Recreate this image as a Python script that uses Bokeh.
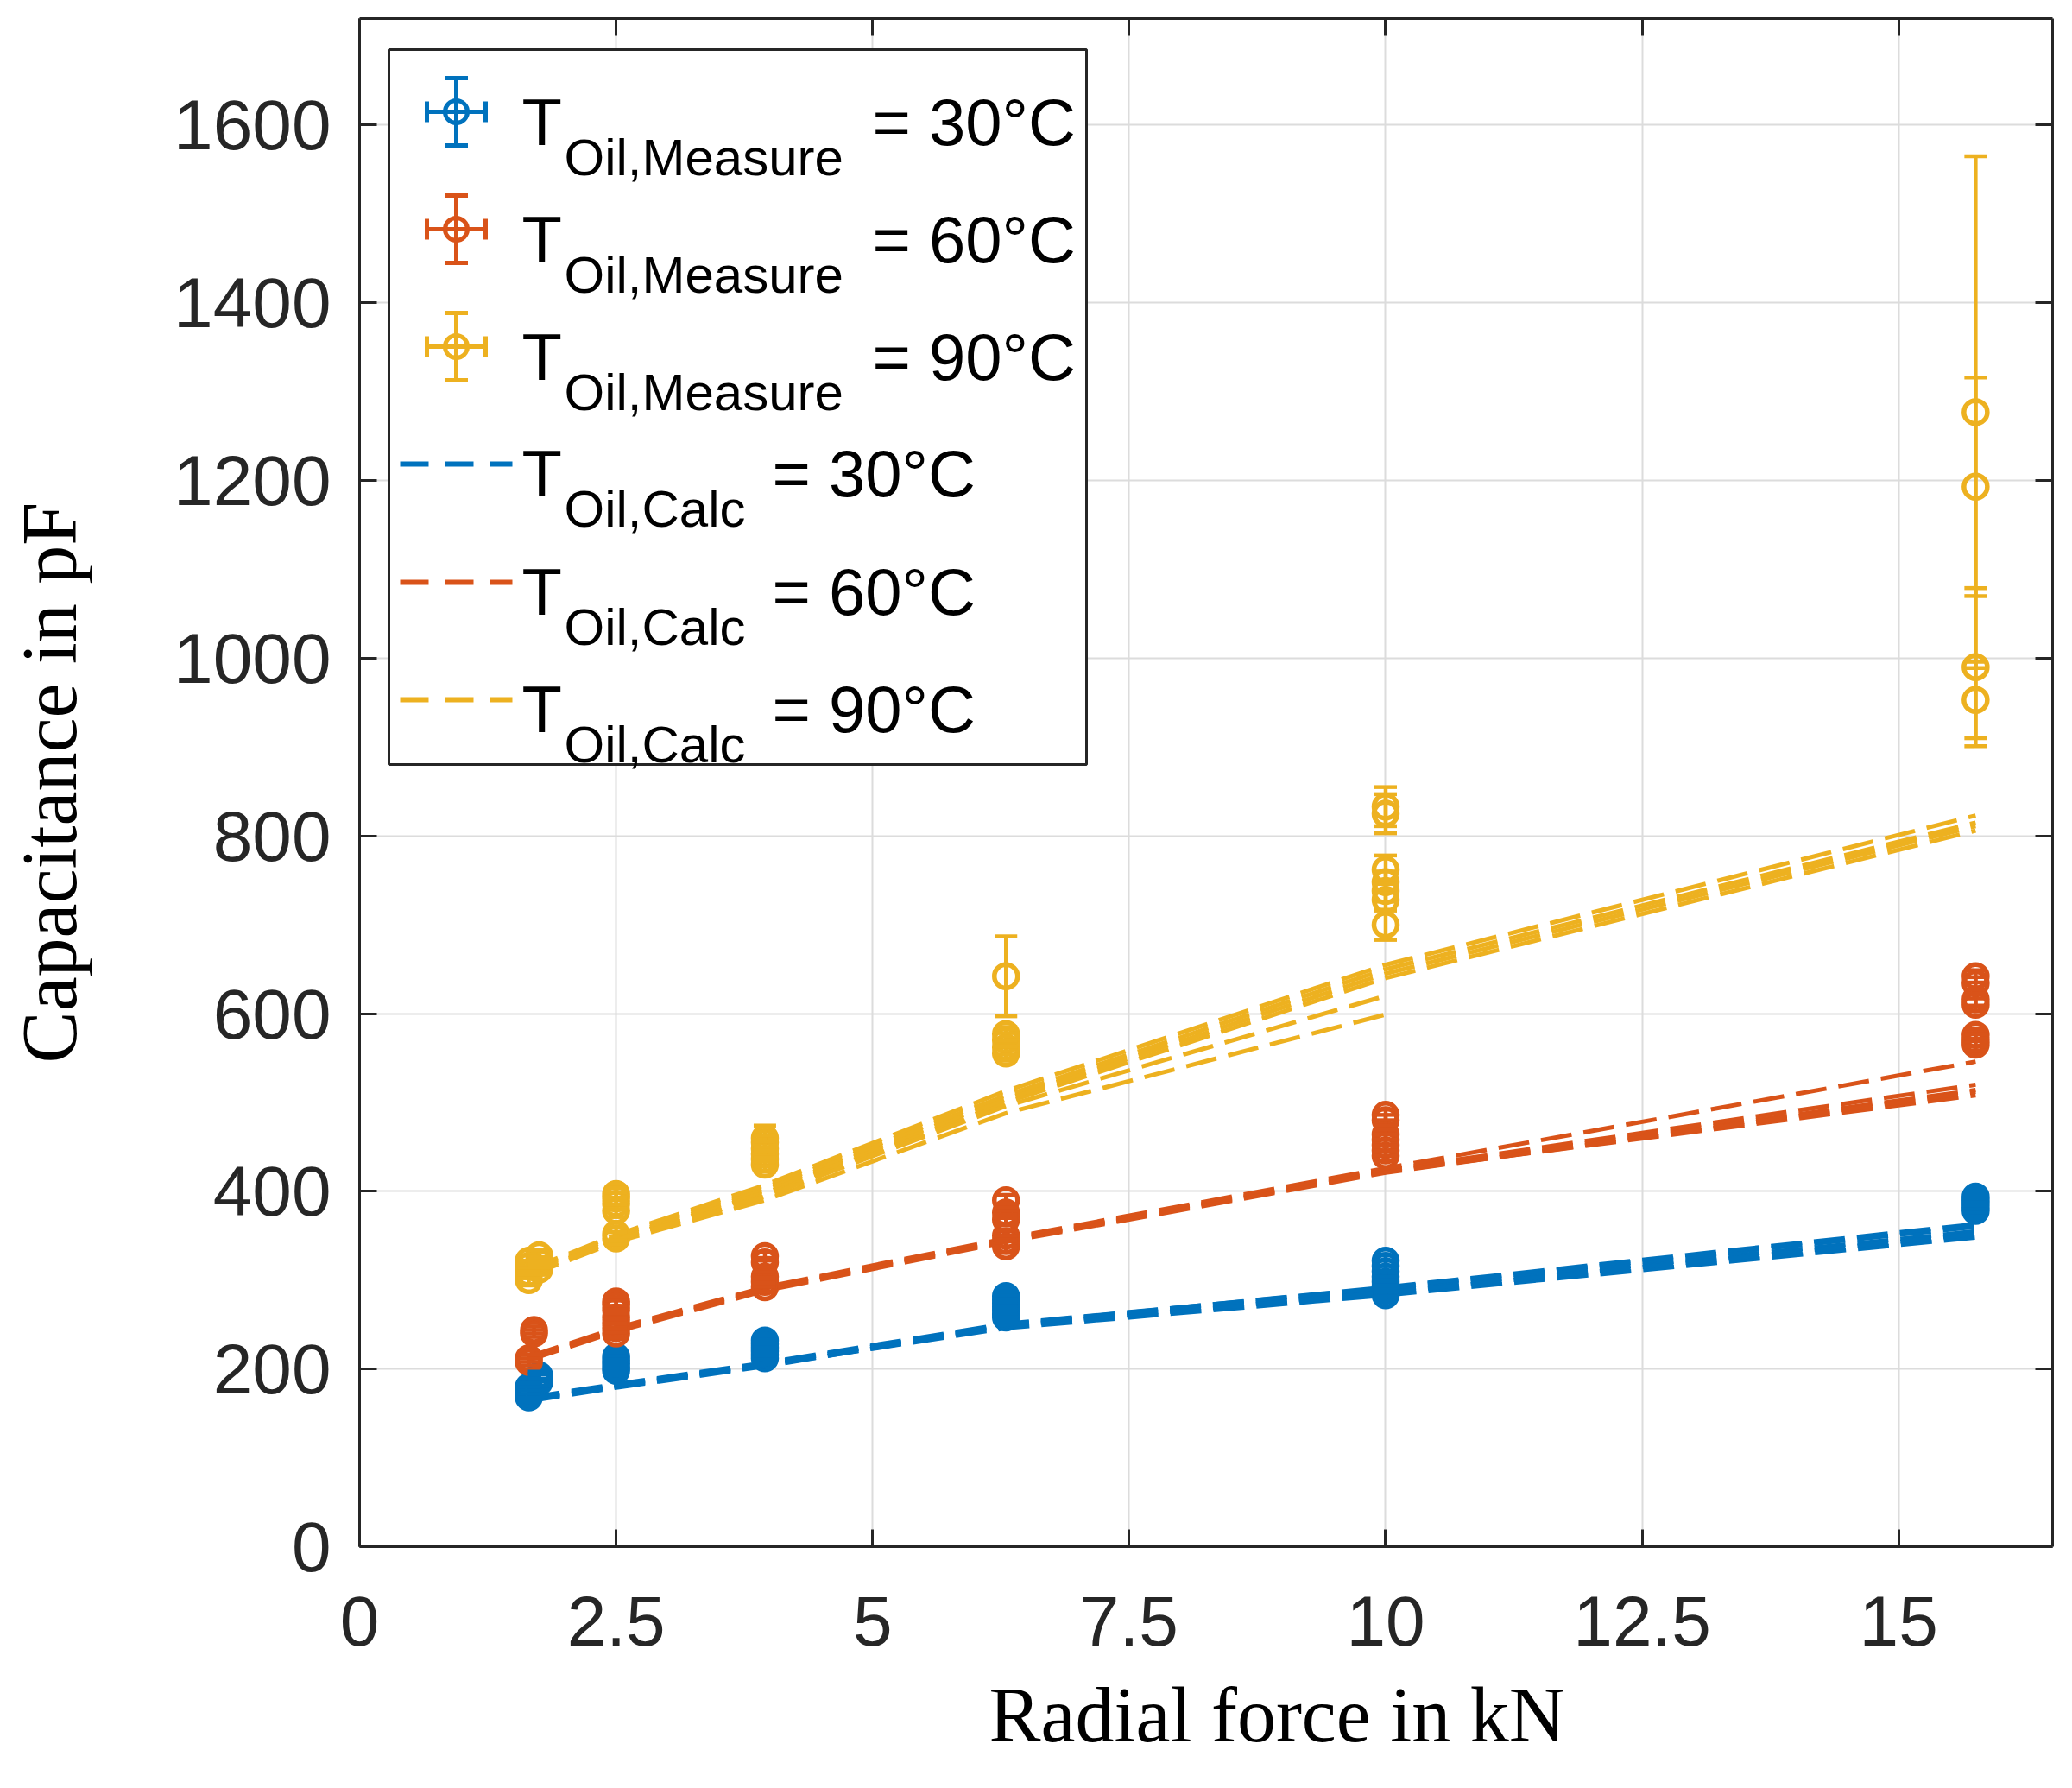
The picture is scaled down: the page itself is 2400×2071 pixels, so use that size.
from bokeh.plotting import figure
from bokeh.models import (Range1d, LinearAxis, SingleIntervalTicker, CustomJSTickFormatter,
                          ColumnDataSource, Whisker, TeeHead, Label, BoxAnnotation, Arrow,
                          Title)
from bokeh.embed import file_html
from bokeh.resources import INLINE

# measured capacitance (pF) and its standard deviation, per oil temperature
m30_force = [1.65, 1.65, 1.65, 1.65, 1.75, 1.75, 1.75,
             2.5, 2.5, 2.5, 2.5, 2.5,
             3.95, 3.95, 3.95, 3.95, 3.95, 3.95,
             6.3, 6.3, 6.3, 6.3, 6.3, 6.3, 6.3,
             10, 10, 10, 10, 10, 10, 10, 10,
             15.75, 15.75, 15.75, 15.75, 15.75]
m30_cap = [168, 172, 176, 180, 185, 190, 193,
           198, 202, 206, 210, 214,
           212, 216, 220, 224, 228, 232,
           258, 262, 266, 270, 274, 278, 282,
           283, 288, 293, 298, 304, 310, 316, 322,
           378, 382, 386, 390, 394]
m30_err = [4, 4, 4, 4, 4, 4, 4,
           5, 5, 5, 5, 5,
           5, 5, 5, 5, 5, 5,
           5, 5, 5, 5, 5, 5, 5,
           6, 6, 6, 6, 6, 6, 6, 6,
           6, 6, 6, 6, 6]

m60_force = [1.65, 1.65, 1.7, 1.7,
             2.5, 2.5, 2.5, 2.5, 2.5, 2.5, 2.5,
             3.95, 3.95, 3.95, 3.95, 3.95,
             6.3, 6.3, 6.3, 6.3, 6.3, 6.3,
             10, 10, 10, 10, 10, 10, 10,
             15.75, 15.75, 15.75, 15.75, 15.75, 15.75, 15.75]
m60_cap = [208, 212, 240, 244,
           240, 246, 252, 258, 266, 272, 276,
           292, 298, 304, 320, 327,
           338, 344, 350, 368, 376, 390,
           440, 446, 452, 458, 464, 480, 486,
           565, 570, 576, 610, 616, 634, 642]
m60_err = [4, 4, 4, 4,
           5, 5, 5, 5, 5, 5, 5,
           5, 5, 5, 5, 5,
           6, 6, 6, 6, 6, 6,
           6, 6, 6, 6, 6, 6, 6,
           7, 7, 7, 7, 7, 7, 7]

m90_force = [1.65, 1.65, 1.65, 1.65, 1.75, 1.75, 1.75,
             2.5, 2.5, 2.5, 2.5, 2.5, 2.5,
             3.95, 3.95, 3.95, 3.95, 3.95, 3.95,
             6.3, 6.3, 6.3, 6.3, 6.3,
             10, 10, 10, 10, 10, 10, 10,
             15.75, 15.75, 15.75, 15.75]
m90_cap = [300, 308, 316, 322, 312, 320, 328,
           347, 352, 378, 386, 392, 397,
           430, 436, 442, 448, 455, 460,
           555, 562, 570, 577, 642,
           700, 728, 738, 748, 762, 825, 833,
           953, 990, 1193, 1277]
m90_err = [6, 6, 6, 6, 6, 6, 6,
           7, 7, 7, 7, 7, 7,
           8, 8, 8, 8, 8, 14,
           8, 8, 8, 8, 45,
           17, 12, 12, 12, 16, 22, 22,
           43, 89, 123, 288]

# calculated capacitance (pF), one dashed line per measurement series
calc_force = [1.65, 2.5, 3.95, 6.3, 10, 15.75]
calc_force_short = [1.65, 2.5, 3.95, 6.3, 10]

c30_lines = [[165, 180, 204, 246, 283, 348],
             [166, 181, 206, 249, 288, 355],
             [168, 183, 207, 251, 291, 360],
             [164, 179, 203, 248, 286, 352],
             [167, 182, 205, 250, 292, 363]]
c60_lines = [[211, 243, 289, 344, 422, 508],
             [212, 244, 290, 345, 423, 514],
             [213, 245, 291, 346, 424, 520],
             [214, 246, 292, 347, 426, 546],
             [210, 242, 288, 343, 421, 512]]
c90_lines = [[306, 346, 398, 500, 640, 806],
             [308, 347, 401, 504, 645, 811],
             [310, 349, 404, 508, 650, 815],
             [312, 351, 407, 513, 655, 823]]
c90_short_lines = [[305, 343, 390, 488, 599],
                   [307, 345, 394, 496, 620]]

temps = ["30°C", "60°C", "90°C"]
colors = ["#0072BD", "#D95319", "#EDB120"]

AX = "#262626"
TICK_FONT = "Liberation Sans"
LABEL_FONT = "Liberation Serif"

p = figure(width=2384, height=2063, output_backend="svg", toolbar_location=None,
           x_range=Range1d(0, 16.5), y_range=Range1d(0, 1720),
           y_axis_label="Capacitance in pF",
           min_border_left=416, min_border_right=7, min_border_top=21,
           min_border_bottom=272)
p.outline_line_color = None
p.background_fill_color = "white"

p.add_layout(LinearAxis(), "above")
p.add_layout(LinearAxis(), "right")

blank = CustomJSTickFormatter(code="return ''")
plain = CustomJSTickFormatter(code="return String(tick)")

for ax in p.xaxis:
    ax.ticker = SingleIntervalTicker(interval=2.5, num_minor_ticks=0)
for ax in p.yaxis:
    ax.ticker = SingleIntervalTicker(interval=200, num_minor_ticks=0)

for ax in p.axis:
    ax.axis_line_color = AX
    ax.axis_line_width = 3
    ax.major_tick_line_color = AX
    ax.major_tick_line_width = 3
    ax.major_tick_in = 20
    ax.major_tick_out = 0
    ax.minor_tick_line_color = None
    ax.major_label_text_font = TICK_FONT
    ax.major_label_text_font_size = "82px"
    ax.major_label_text_color = AX
    ax.axis_label_text_font = LABEL_FONT
    ax.axis_label_text_font_style = "normal"
    ax.axis_label_text_font_size = "90px"
    ax.axis_label_text_color = "black"

p.above[0].formatter = blank
p.above[0].major_label_standoff = 0
p.right[0].formatter = blank
p.right[0].major_label_standoff = 0
p.below[0].formatter = plain
p.below[0].major_label_standoff = 57
p.left[0].formatter = plain
p.left[0].major_label_standoff = 33
p.left[0].axis_label_standoff = 91

p.grid.grid_line_color = "#dcdcdc"
p.grid.grid_line_width = 2

# x axis title sits right of centre, as in the original
p.add_layout(Title(text="Radial force in kN", align="left", offset=729, standoff=53,
                   text_font=LABEL_FONT, text_font_size="90px",
                   text_font_style="normal", text_color="black"), "below")

measured = [(m30_force, m30_cap, m30_err), (m60_force, m60_cap, m60_err),
            (m90_force, m90_cap, m90_err)]
calc = [(c30_lines, []), (c60_lines, []), (c90_lines, c90_short_lines)]

for (mf, mc, me), (lines, short_lines), col in zip(measured, calc, colors):
    src = ColumnDataSource(dict(x=mf, y=mc,
                                lo=[c - e for c, e in zip(mc, me)],
                                hi=[c + e for c, e in zip(mc, me)]))
    w = Whisker(base="x", lower="lo", upper="hi", source=src, dimension="height",
                line_color=col, line_width=4.5, level="glyph",
                lower_head=TeeHead(size=26, line_color=col, line_width=4.5),
                upper_head=TeeHead(size=26, line_color=col, line_width=4.5))
    p.add_layout(w)
    p.scatter("x", "y", source=src, marker="circle", size=27, fill_color=None,
              line_color=col, line_width=5.5)
    for vals in lines:
        p.line(calc_force, vals, line_color=col, line_width=5, line_dash="36 14")
    for vals in short_lines:
        p.line(calc_force_short, vals, line_color=col, line_width=5, line_dash="36 14")

# legend, laid out in screen pixels relative to the plot frame (y up)
p.add_layout(BoxAnnotation(left=34, right=842, bottom=906, top=1734,
                           left_units="screen", right_units="screen",
                           bottom_units="screen", top_units="screen",
                           fill_color="white", fill_alpha=1.0,
                           line_color=AX, line_width=3, line_alpha=1.0))

def add_text(x, y, txt, size):
    p.add_layout(Label(x=x, y=y, x_units="screen", y_units="screen", text=txt,
                       text_font=TICK_FONT, text_font_size=size, text_color="black",
                       text_baseline="alphabetic", text_align="left"))

meas_icon_y = [1662, 1526, 1390]
calc_icon_y = [1254, 1117, 981]
icon_x = 112

for t, col, yc in zip(temps, colors, meas_icon_y):
    p.add_layout(Arrow(x_start=icon_x, y_start=yc - 39, x_end=icon_x, y_end=yc + 39,
                       start_units="screen", end_units="screen",
                       line_color=col, line_width=5,
                       start=TeeHead(size=27, line_color=col, line_width=5),
                       end=TeeHead(size=27, line_color=col, line_width=5)))
    p.add_layout(Arrow(x_start=icon_x - 34, y_start=yc, x_end=icon_x + 34, y_end=yc,
                       start_units="screen", end_units="screen",
                       line_color=col, line_width=5,
                       start=TeeHead(size=24, line_color=col, line_width=5),
                       end=TeeHead(size=24, line_color=col, line_width=5)))
    p.add_layout(BoxAnnotation(left=icon_x - 13, right=icon_x + 13,
                               bottom=yc - 13, top=yc + 13,
                               left_units="screen", right_units="screen",
                               bottom_units="screen", top_units="screen",
                               border_radius=13, fill_color=None,
                               line_color=col, line_width=5, line_alpha=1.0))
    base = yc - 12
    add_text(188, base, "T", "76px")
    add_text(237, base - 41, "Oil,Measure", "60px")
    add_text(594, base, "= " + t, "76px")

for t, col, yc in zip(temps, colors, calc_icon_y):
    p.add_layout(Arrow(x_start=47, y_start=yc, x_end=177, y_end=yc,
                       start_units="screen", end_units="screen",
                       line_color=col, line_width=6, line_dash="33 19",
                       start=None, end=None))
    base = yc - 11
    add_text(188, base, "T", "76px")
    add_text(237, base - 41, "Oil,Calc", "60px")
    add_text(478, base, "= " + t, "76px")

open("out.html", "w").write(file_html(p, INLINE))
